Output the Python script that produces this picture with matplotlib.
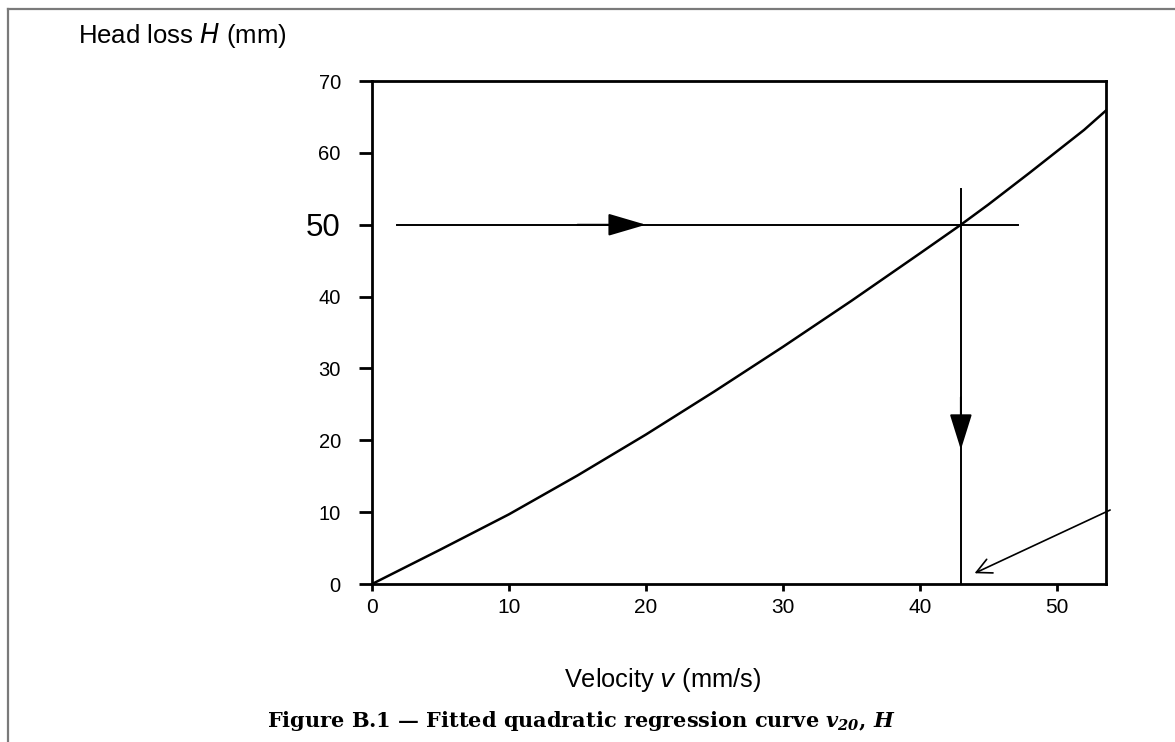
import matplotlib.pyplot as plt
from matplotlib.lines import Line2D

# curve
velocity = [0, 5, 10, 15, 20, 25, 30, 35, 40, 43, 45, 48, 50, 52, 53.6]
head_loss = [0, 4.8, 9.7, 15.1, 20.8, 26.8, 33.0, 39.4, 46.0, 50.0, 52.8, 57.2, 60.2, 63.2, 65.9]

x_ticks = [0, 10, 20, 30, 40, 50]
y_ticks = [0, 10, 20, 30, 40, 50, 60, 70]

h_read = 50      # head loss read from
v_read = 43.0    # resulting velocity

plt.rcParams['mathtext.fontset'] = 'custom'
plt.rcParams['mathtext.it'] = 'DejaVu Serif:italic:bold'
plt.rcParams['mathtext.rm'] = 'DejaVu Serif:italic:bold'

fig = plt.figure(figsize=(11.75, 7.42), dpi=100)
ax = fig.add_axes([0.3166, 0.2129, 0.6247, 0.6779])

ax.plot(velocity, head_loss, color='black', lw=1.8, solid_joinstyle='round')

ax.set_xlim(0, 53.6)
ax.set_ylim(0, 70)
for s in ax.spines.values():
    s.set_linewidth(2.0)

ax.set_xticks(x_ticks)
ax.set_yticks(y_ticks)
ax.set_xticklabels([str(t) for t in x_ticks], fontsize=15, family='Liberation Sans')
ax.set_yticklabels([str(t) for t in y_ticks], fontsize=14.5, family='Liberation Sans')
for lab in ax.get_yticklabels():
    if lab.get_text() == '50':
        lab.set_fontsize(22.5)
ax.tick_params(axis='y', direction='out', length=9.5, width=2.0, pad=13)
ax.tick_params(axis='x', direction='out', length=5, width=2.0, pad=5)

# reading line: H = 50 across to the curve
ax.plot([1.8, 47.2], [h_read, h_read], color='black', lw=1.4)
ax.annotate('', xy=(20, h_read), xytext=(15, h_read),
            arrowprops=dict(arrowstyle='-|>,head_length=1.7,head_width=0.5',
                            color='black', lw=1.4, mutation_scale=14, shrinkA=0, shrinkB=0))

# down to the velocity axis
ax.plot([v_read, v_read], [0, 55], color='black', lw=1.4, clip_on=False)
ax.annotate('', xy=(v_read, 18.7), xytext=(v_read, 26),
            arrowprops=dict(arrowstyle='-|>,head_length=1.6,head_width=0.5',
                            color='black', lw=1.4, mutation_scale=14, shrinkA=0, shrinkB=0))

# pointer arrow
ax.annotate('', xy=(44.0, 1.5), xytext=(53.9, 10.3), annotation_clip=False,
            arrowprops=dict(arrowstyle='->,head_length=0.9,head_width=0.45',
                            color='black', lw=1.2, mutation_scale=12, shrinkA=0, shrinkB=0))

fig.text(78 / 1175, 1 - 36 / 742, 'Head loss $\\it{H}$ (mm)', fontsize=18.5,
         family='Liberation Sans', va='center', ha='left', math_fontfamily='dejavusans')
fig.text(663 / 1175, 1 - 680 / 742, 'Velocity $\\it{v}$ (mm/s)', fontsize=18.3,
         family='Liberation Sans', va='center', ha='center', math_fontfamily='dejavusans')
fig.text(581 / 1175, 1 - 721 / 742,
         'Figure B.1 \u2014 Fitted quadratic regression curve $v_{20}$, $H$',
         fontsize=15, family='DejaVu Serif', weight='bold', va='center', ha='center')

# page border
fig.add_artist(Line2D([8 / 1175, 1], [1 - 9 / 742, 1 - 9 / 742], transform=fig.transFigure,
                      color='#7a7a7a', lw=1.6))
fig.add_artist(Line2D([8 / 1175, 8 / 1175], [0, 1 - 9 / 742], transform=fig.transFigure,
                      color='#7a7a7a', lw=1.6))

fig.savefig('out.png', dpi=100)
